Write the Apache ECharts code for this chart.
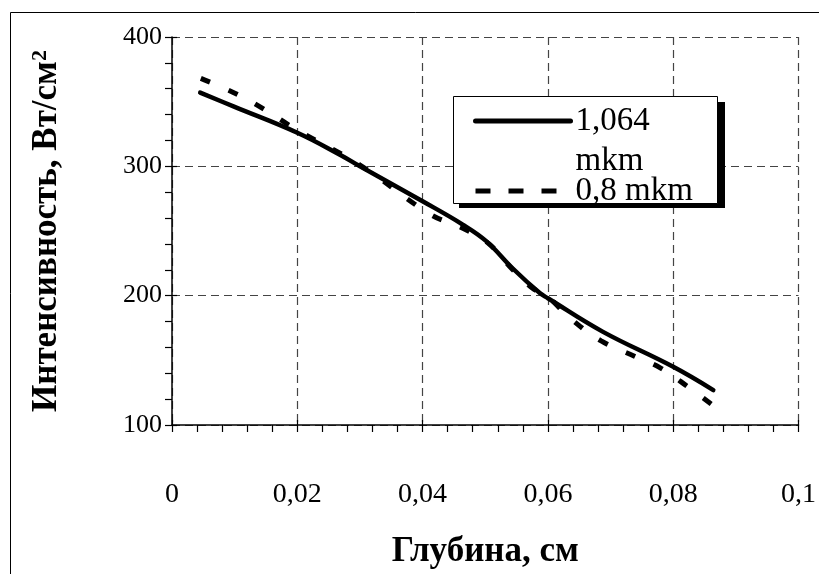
<!doctype html>
<html>
<head>
<meta charset="utf-8">
<title>Интенсивность по глубине</title>
<script src="https://cdn.jsdelivr.net/npm/echarts@6/dist/echarts.min.js"></script>
<style>
    html, body { margin: 0; padding: 0; background: #fff; }
    #main { width: 819px; height: 574px; }
</style>
</head>
<body>
<div id="main"></div>
<script>
    var seriesNames = ['1,064 mkm', '0,8 mkm'];

    // 1,064 mkm
    var depthA = [0.0045, 0.010, 0.020, 0.0268, 0.030, 0.040, 0.0464, 0.0502, 0.0544, 0.0587, 0.060, 0.0688, 0.080, 0.0864];
    var intensityA = [357, 346, 326, 309, 300, 273, 255, 242, 221, 202, 198, 172, 145, 127];

    // 0,8 mkm
    var depthB = [0.0046, 0.0103, 0.0144, 0.020, 0.030, 0.0412, 0.0465, 0.0506, 0.0544, 0.0575, 0.060, 0.0637, 0.0685, 0.0739, 0.078, 0.0825, 0.0864];
    var intensityB = [368, 356, 345, 328, 301, 263, 252, 240, 220, 206, 199, 182, 165, 153, 144, 129, 115];

    var xTitle = 'Глубина, см';
    var yTitle = 'Интенсивность, Вт/см{sup|2}';

    var font = "'Liberation Serif', 'Times New Roman', serif";

    function pairs(xs, ys) {
        var out = [];
        for (var i = 0; i < xs.length; i++) {
            out.push([xs[i], ys[i]]);
        }
        return out;
    }

    function comma(v) {
        return String(+v.toFixed(3)).replace('.', ',');
    }

    var chart = echarts.init(document.getElementById('main'), null, { renderer: 'canvas' });

    var gridLine = { show: true, lineStyle: { color: '#444', width: 1.2, type: [8, 5] } };

    chart.setOption({
        backgroundColor: '#fff',
        animation: false,
        textStyle: { fontFamily: font },
        grid: { left: 172, right: 20, top: 37, bottom: 148, containLabel: false },
        graphic: [
            { type: 'rect', z: 0, shape: { x: 10.5, y: 12.5, width: 830, height: 580 },
              style: { fill: 'none', stroke: '#000', lineWidth: 1 } },
            // legend frame with its shadow
            { type: 'rect', z: 5, shape: { x: 459, y: 102, width: 266, height: 106 },
              style: { fill: '#000' } },
            { type: 'rect', z: 6, shape: { x: 453.5, y: 96.5, width: 264, height: 107 },
              style: { fill: '#fff', stroke: '#000', lineWidth: 1 } }
        ],
        legend: {
            z: 10,
            orient: 'vertical',
            left: 473,
            top: 76,
            padding: 0,
            itemGap: -3,
            itemWidth: 95,
            itemHeight: 14,
            itemStyle: { opacity: 0 },
            lineStyle: { width: 5 },
            data: [
                { name: seriesNames[0], lineStyle: { width: 5, cap: 'round' } },
                { name: seriesNames[1], lineStyle: { width: 5, type: [15, 18], cap: 'butt' } }
            ],
            formatter: function (name) {
                if (name === seriesNames[0]) {
                    return '{e| }\n{a|1,064}\n{b|mkm}';
                }
                return '{c|' + name + '}';
            },
            textStyle: {
                fontFamily: font,
                fontSize: 33,
                color: '#000',
                rich: {
                    e: { fontSize: 10, lineHeight: 26 },
                    a: { fontFamily: font, fontSize: 33, lineHeight: 54 },
                    b: { fontFamily: font, fontSize: 33, lineHeight: 26 },
                    c: { fontFamily: font, fontSize: 33, lineHeight: 30 }
                }
            }
        },
        xAxis: [{
            type: 'value',
            min: 0,
            max: 0.1,
            interval: 0.02,
            name: xTitle,
            nameLocation: 'middle',
            nameGap: 109,
            nameTextStyle: { fontFamily: font, fontSize: 35, fontWeight: 'bold', color: '#000' },
            axisLine: { show: true, onZero: false, lineStyle: { color: '#000', width: 1.5 } },
            axisTick: { show: true, length: 7, lineStyle: { color: '#000', width: 1.2 } },
            minorTick: { show: true, splitNumber: 5, length: 7, lineStyle: { color: '#000', width: 1.2 } },
            axisLabel: { margin: 56, fontSize: 28, color: '#000', fontFamily: font, formatter: comma },
            splitLine: gridLine
        }, {
            type: 'value',
            min: 0,
            max: 0.1,
            interval: 0.02,
            position: 'bottom',
            axisLine: { show: false },
            axisTick: { show: true, inside: true, length: 5, lineStyle: { color: '#000', width: 1.2 } },
            axisLabel: { show: false },
            splitLine: { show: false }
        }],
        yAxis: [{
            type: 'value',
            min: 100,
            max: 400,
            interval: 100,
            name: yTitle,
            nameLocation: 'middle',
            nameGap: 108,
            nameTextStyle: {
                fontFamily: font, fontSize: 35, fontWeight: 'bold', color: '#000',
                rich: {
                    sup: { fontFamily: font, fontSize: 22, fontWeight: 'bold', verticalAlign: 'top', lineHeight: 35 }
                }
            },
            axisLine: { show: true, onZero: false, lineStyle: { color: '#000', width: 1.5 } },
            axisTick: { show: true, length: 7, lineStyle: { color: '#000', width: 1.2 } },
            minorTick: { show: true, splitNumber: 5, length: 7, lineStyle: { color: '#000', width: 1.2 } },
            axisLabel: { margin: 10, fontSize: 26, color: '#000', fontFamily: font },
            splitLine: gridLine
        }, {
            type: 'value',
            min: 100,
            max: 400,
            interval: 100,
            position: 'left',
            axisLine: { show: false },
            axisTick: { show: true, inside: true, length: 5, lineStyle: { color: '#000', width: 1.2 } },
            axisLabel: { show: false },
            splitLine: { show: false }
        }],
        series: [{
            name: seriesNames[0],
            type: 'line',
            smooth: 0.4,
            symbol: 'none',
            z: 3,
            itemStyle: { color: '#000' },
            lineStyle: { color: '#000', width: 4.5, cap: 'round' },
            data: pairs(depthA, intensityA)
        }, {
            name: seriesNames[1],
            type: 'line',
            smooth: 0.4,
            symbol: 'none',
            z: 3,
            itemStyle: { color: '#000' },
            lineStyle: { color: '#000', width: 5, type: [10, 20], cap: 'butt' },
            data: pairs(depthB, intensityB)
        }]
    });

    window.onresize = chart.resize;
</script>
</body>
</html>
